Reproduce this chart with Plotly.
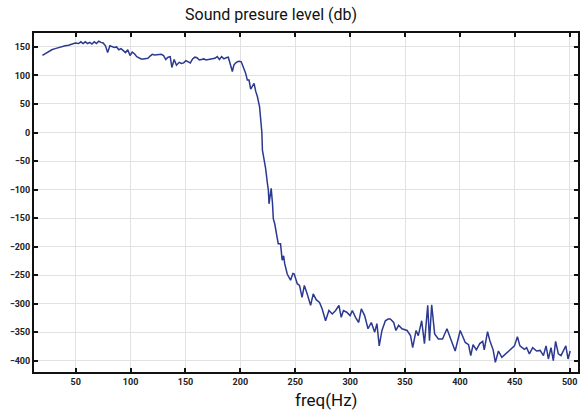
import plotly.graph_objects as go

freq = [19.7, 22.1, 25.1, 28.2, 31.3, 34.3, 37.4, 40.4, 43.5, 46.5, 49.6, 52.6, 54.7, 56.7, 58.7,
        60.8, 62.8, 64.8, 66.9, 68.9, 71.0, 73.0, 75.0, 77.1, 79.1, 81.1, 83.2, 85.2, 87.2, 89.3,
        91.3, 93.4, 95.4, 97.4, 99.5, 101.5, 103.5, 105.6, 107.6, 109.6, 111.7, 113.7, 115.8, 117.8,
        119.8, 121.9, 124.9, 128.0, 130.0, 132.0, 134.1, 136.1, 137.6, 139.7, 141.8, 144.3, 146.3,
        148.3, 150.4, 152.4, 154.4, 156.5, 158.5, 160.5, 162.6, 164.6, 166.7, 168.7, 170.7, 172.8,
        174.8, 176.8, 178.9, 180.9, 182.9, 185.0, 187.0, 189.0, 191.1, 192.7, 194.1, 195.2, 197.2,
        199.2, 200.8, 202.7, 204.8, 206.3, 207.9, 209.4, 210.9, 212.5, 214.0, 215.5, 217.5, 218.6,
        219.6, 220.1, 221.6, 223.0, 224.7, 225.5, 226.1, 227.2, 228.1, 229.3, 230.0, 231.3, 232.8,
        234.5, 236.6, 238.1, 239.4, 240.4, 242.7, 245.7, 247.9, 249.1, 251.8, 253.9, 256.2, 258.3,
        260.9, 264.0, 266.4, 269.1, 272.1, 274.5, 277.6, 280.7, 283.7, 286.8, 289.8, 291.9, 293.9,
        296.9, 300.0, 302.0, 304.9, 307.8, 310.2, 313.2, 316.3, 319.3, 322.4, 324.4, 326.5, 329.0,
        332.1, 334.6, 336.6, 339.7, 341.7, 344.2, 347.2, 349.9, 351.9, 355.0, 357.0, 360.1, 362.1,
        365.2, 367.7, 370.7, 372.3, 374.3, 377.0, 380.4, 384.2, 388.2, 392.1, 395.7, 400.3, 402.8,
        404.9, 407.9, 409.9, 412.0, 415.0, 418.1, 420.8, 422.2, 425.2, 427.3, 430.3, 432.3, 435.1,
        438.2, 441.2, 443.5, 445.6, 449.7, 452.4, 454.7, 456.8, 458.8, 460.8, 463.3, 466.3, 469.9,
        473.1, 476.1, 478.5, 480.6, 483.0, 485.1, 487.2, 489.7, 492.1, 494.4, 496.5, 498.5, 500.5]

spl = [135, 138, 141, 145, 147, 149, 151, 152, 153, 155, 157, 156, 159, 156, 159,
       156, 158, 155, 159, 156, 160, 158, 157, 152, 140, 152, 150, 149, 150, 145,
       147, 144, 140, 145, 135, 141, 138, 133, 131, 129, 129, 129, 130, 134,
       137, 136, 136, 137, 135, 128, 132, 133, 114, 128, 118, 123, 121,
       122, 126, 124, 122, 129, 132, 131, 127, 128, 129, 127, 128, 129,
       130, 130, 133, 128, 133, 129, 131, 132, 118, 107, 118, 121, 124,
       125, 124, 115, 104, 92, 92, 76, 80, 86, 72, 63, 45, 22,
       0, -31, -45, -63, -90, -101, -125, -110, -98, -125, -151, -160, -175,
       -195, -195, -224, -216, -230, -248, -259, -247, -248, -265, -268, -289, -268,
       -283, -303, -283, -293, -298, -309, -330, -312, -318, -312, -303, -324, -312,
       -315, -321, -312, -324, -333, -309, -321, -344, -333, -350, -335, -374, -347,
       -330, -327, -327, -333, -347, -338, -344, -346, -347, -356, -377, -347, -356,
       -330, -370, -303, -365, -302, -353, -362, -362, -344, -365, -383, -347, -358,
       -368, -372, -391, -372, -381, -370, -366, -381, -349, -365, -381, -403, -383,
       -394, -389, -385, -380, -374, -358, -374, -377, -380, -377, -388, -377, -383,
       -382, -391, -374, -397, -377, -400, -366, -388, -391, -382, -374, -397, -383]

x_ticks = [50, 100, 150, 200, 250, 300, 350, 400, 450, 500]
y_ticks = [-400, -350, -300, -250, -200, -150, -100, -50, 0, 50, 100, 150]

fig = go.Figure()
fig.add_trace(go.Scatter(x=freq, y=spl, mode="lines",
                         line=dict(color="#2B3990", width=1.5), showlegend=False))

axis_common = dict(showgrid=True, gridcolor="#e2e2e2", gridwidth=1.2,
                   showline=True, linecolor="#111111", linewidth=2, mirror="ticks",
                   ticks="inside", ticklen=4, tickwidth=1.5, tickcolor="#111111",
                   zeroline=False,
                   tickfont=dict(family="Roboto, Arial, sans-serif", size=9, color="#222222", weight="bold"))

fig.update_xaxes(range=[12, 507.6], tickvals=x_ticks, **axis_common)
fig.update_yaxes(range=[-419.8, 174.4], tickvals=y_ticks, **axis_common)

fig.update_layout(
    width=588, height=416,
    margin=dict(l=34, r=8, t=33, b=44),
    plot_bgcolor="white", paper_bgcolor="white",
    annotations=[
        dict(text="Sound presure level (db)", xref="paper", yref="paper",
             x=(272 - 34) / 546, y=1 + (33 - 15) / 339, xanchor="center", yanchor="middle",
             showarrow=False, font=dict(family="Roboto, sans-serif", size=16, color="#111111")),
        dict(text="freq(Hz)", xref="paper", yref="paper",
             x=(328 - 34) / 546, y=-(400 - 372) / 339, xanchor="center", yanchor="middle",
             showarrow=False, font=dict(family="Roboto, sans-serif", size=17, color="#111111")),
    ],
)

fig.write_html("out.html")
